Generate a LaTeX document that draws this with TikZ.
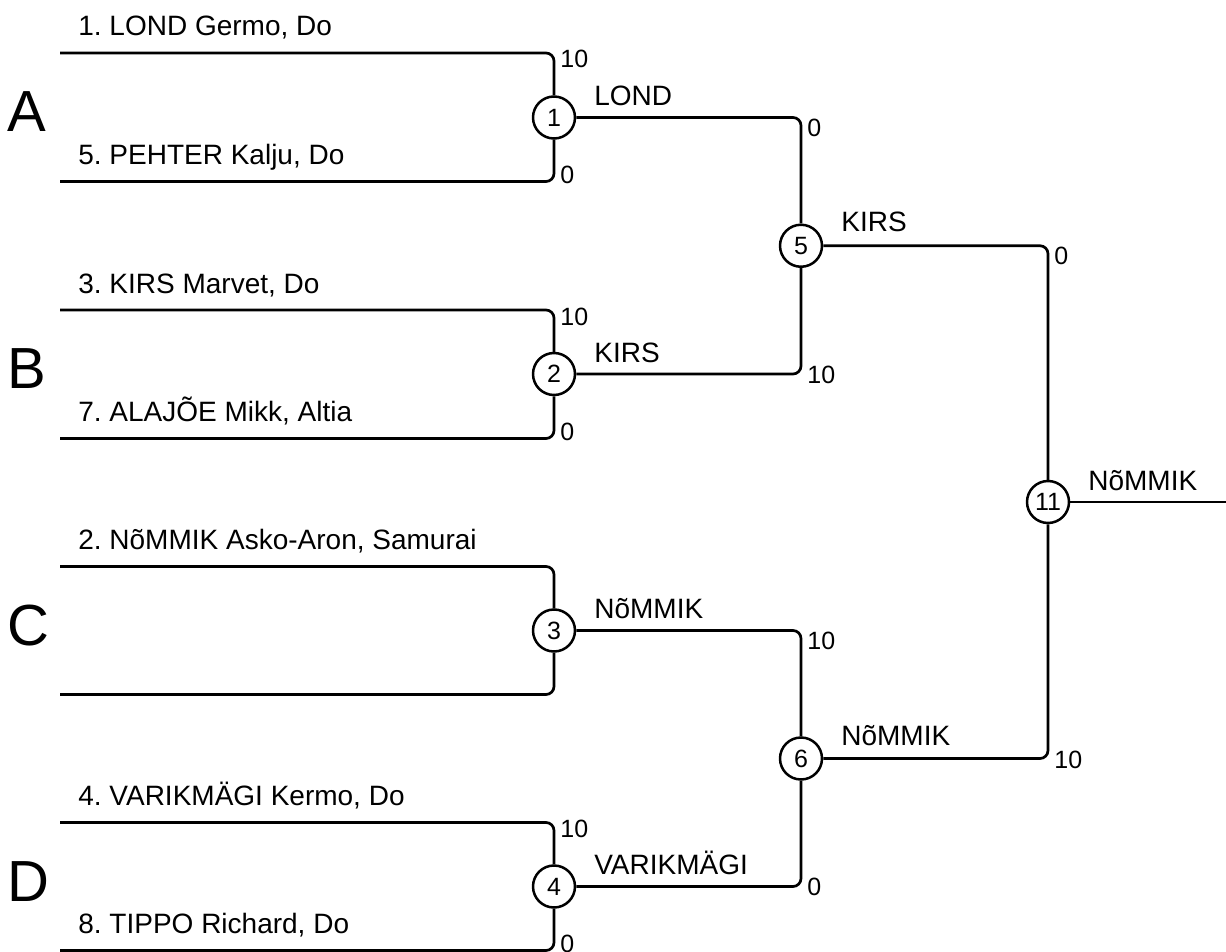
\documentclass[tikz,border=0pt]{standalone}
\usepackage{fontspec}
\setmainfont{Liberation Sans}
\frenchspacing
\begin{document}
\begin{tikzpicture}[x=1pt,y=-1pt,
  line width=2.7pt,
  bline/.style={rounded corners=8pt},
  mcircle/.style={draw, circle, fill=white, minimum size=42pt, inner sep=0pt, line width=2.5pt, font=\fontsize{25}{27}\selectfont},
  plabel/.style={anchor=base west, inner sep=0pt, font=\fontsize{28}{30}\selectfont},
  wlabel/.style={anchor=base west, inner sep=0pt, font=\fontsize{28}{30}\selectfont},
  sclabel/.style={anchor=base west, inner sep=0pt, font=\fontsize{25}{27}\selectfont},
  grp/.style={anchor=base west, inner sep=0pt, font=\fontsize{58}{60}\selectfont}]
\useasboundingbox (0,0) rectangle (1226,952);

% player line starts
\coordinate (p1) at (60,53);
\coordinate (p2) at (60,181.5);
\coordinate (p3) at (60,310);
\coordinate (p4) at (60,438.5);
\coordinate (p5) at (60,566.5);
\coordinate (p6) at (60,694.5);
\coordinate (p7) at (60,822.5);
\coordinate (p8) at (60,950.5);
\coordinate (fin) at (1226,502);

% match circles
\node[mcircle] (c1) at (554,117.5) {1};
\node[mcircle] (c2) at (554,374) {2};
\node[mcircle] (c3) at (554,630.5) {3};
\node[mcircle] (c4) at (554,886.5) {4};
\node[mcircle] (c5) at (801,245.75) {5};
\node[mcircle] (c6) at (801,758.5) {6};
\node[mcircle] (c11) at (1048,502) {11};

% connectors
\draw[bline] (p1) -| (c1);
\draw[bline] (p2) -| (c1);
\draw[bline] (p3) -| (c2);
\draw[bline] (p4) -| (c2);
\draw[bline] (p5) -| (c3);
\draw[bline] (p6) -| (c3);
\draw[bline] (p7) -| (c4);
\draw[bline] (p8) -| (c4);
\draw[bline] (c1) -| (c5);
\draw[bline] (c2) -| (c5);
\draw[bline] (c3) -| (c6);
\draw[bline] (c4) -| (c6);
\draw[bline] (c5) -| (c11);
\draw[bline] (c6) -| (c11);
\draw (c11) -- (fin);

% group letters
\node[grp] (gA) at (6,132) {A};
\node[grp] (gB) at (6,388.5) {B};
\node[grp] (gC) at (6,645) {C};
\node[grp] (gD) at (6,901) {D};

% player names
\node[plabel] (n1) at (77,36) {1. LOND Germo, Do};
\node[plabel] (n2) at (77,164.5) {5. PEHTER Kalju, Do};
\node[plabel] (n3) at (77,293) {3. KIRS Marvet, Do};
\node[plabel] (n4) at (77,421.5) {7. ALAJÕE Mikk, Altia};
\node[plabel] (n5) at (77,549.5) {2. NõMMIK Asko-Aron, Samurai};
\node[plabel] (n7) at (77,805.5) {4. VARIKMÄGI Kermo, Do};
\node[plabel] (n8) at (77,933.5) {8. TIPPO Richard, Do};

% winners
\node[wlabel] (w1) at (593,105.5) {LOND};
\node[wlabel] (w2) at (593,362) {KIRS};
\node[wlabel] (w3) at (593,618.5) {NõMMIK};
\node[wlabel] (w4) at (593,874.5) {VARIKMÄGI};
\node[wlabel] (w5) at (840,232) {KIRS};
\node[wlabel] (w6) at (840,745.5) {NõMMIK};
\node[wlabel] (w11) at (1087,490) {NõMMIK};

% scores
\node[sclabel] (s1) at (559,68) {10};
\node[sclabel] (s2) at (559,183.5) {0};
\node[sclabel] (s3) at (559,325) {10};
\node[sclabel] (s4) at (559,440.5) {0};
\node[sclabel] (s7) at (559,837.5) {10};
\node[sclabel] (s8) at (559,952) {0};
\node[sclabel] (s9) at (806,137) {0};
\node[sclabel] (s10) at (806,383) {10};
\node[sclabel] (s11) at (806,649.5) {10};
\node[sclabel] (s12) at (806,895.5) {0};
\node[sclabel] (s13) at (1053,264) {0};
\node[sclabel] (s14) at (1053,768.5) {10};
\end{tikzpicture}
\end{document}
